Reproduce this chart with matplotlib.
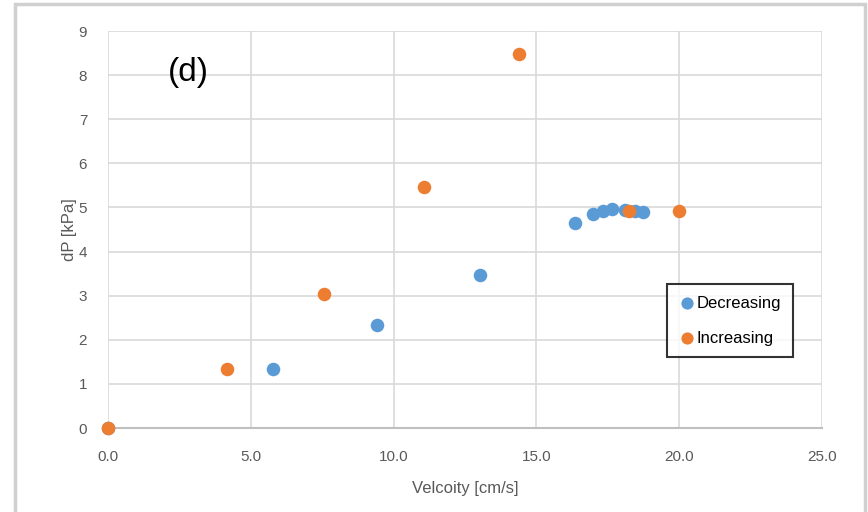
import matplotlib
matplotlib.use('Agg')
import matplotlib.pyplot as plt
from matplotlib.patches import Rectangle

plt.rcParams['font.family'] = ['Liberation Sans', 'DejaVu Sans']

# Decreasing velocity series
dec_v = [0.0, 5.78, 9.42, 13.03, 16.35, 16.98, 17.33, 17.65, 18.10, 18.45, 18.73]
dec_dp = [0.0, 1.34, 2.34, 3.47, 4.64, 4.85, 4.92, 4.97, 4.94, 4.91, 4.89]

# Increasing velocity series
inc_v = [0.0, 4.17, 7.56, 11.06, 14.39, 18.24, 19.99]
inc_dp = [0.0, 1.34, 3.04, 5.46, 8.48, 4.92, 4.91]

x_ticks = [0, 5, 10, 15, 20, 25]
y_ticks = list(range(0, 10))

blue = '#5B9BD5'
orange = '#ED7D31'
grid_c = '#D9D9D9'
text_c = '#595959'

fig = plt.figure(figsize=(8.68, 5.12), dpi=100)
# outer chart border (cropped Excel frame)
fig.patches.append(Rectangle((15 / 868, -0.1), (865 - 15) / 868, 1.1 - 4 / 512,
                             transform=fig.transFigure, fill=False,
                             edgecolor='#D0D0D0', linewidth=2.5))

ax = fig.add_axes([108 / 868, 84 / 512, 714 / 868, 397 / 512])

ax.scatter(dec_v, dec_dp, s=95, color=blue, label='Decreasing', zorder=3,
           linewidths=0, clip_on=False)
ax.scatter(inc_v, inc_dp, s=95, color=orange, label='Increasing', zorder=4,
           linewidths=0, clip_on=False)

ax.set_xlim(0, 25)
ax.set_ylim(0, 9)
ax.set_xticks(x_ticks)
ax.set_xticklabels([f'{t:.1f}' for t in x_ticks])
ax.set_yticks(y_ticks)

for s in ['top', 'right', 'left']:
    ax.spines[s].set_visible(False)
ax.spines['bottom'].set_color('#BFBFBF')
ax.spines['bottom'].set_linewidth(1.5)
ax.grid(True, color=grid_c, linewidth=1.2)
ax.set_axisbelow(True)
ax.tick_params(axis='x', length=0, labelsize=11, colors=text_c, pad=16)
ax.tick_params(axis='y', length=0, labelsize=11, colors=text_c, pad=15)

ax.set_xlabel('Velcoity [cm/s]', fontsize=12, color=text_c, labelpad=12)
ax.set_ylabel('dP [kPa]', fontsize=12, color=text_c, labelpad=1)

fig.text(188 / 868, 1 - 73 / 512, '(d)', fontsize=24, ha='center', va='center',
         color='black')

leg = ax.legend(loc='upper left', bbox_to_anchor=(667 / 868, (512 - 284) / 512),
                bbox_transform=fig.transFigure, frameon=True, fancybox=False,
                fontsize=12, handletextpad=0.1, borderpad=0.7, labelspacing=1.2,
                handlelength=1.0, markerscale=0.9, borderaxespad=0)
leg.get_frame().set_edgecolor('black')
leg.get_frame().set_linewidth(1.5)

fig.savefig('out.png', dpi=100)
